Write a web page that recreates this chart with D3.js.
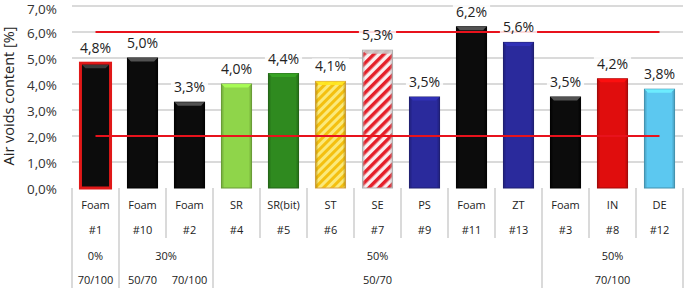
<!DOCTYPE html>
<html>
<head>
<meta charset="utf-8">
<script src="https://cdn.jsdelivr.net/npm/d3@7"></script>
<style>
  body { margin: 0; background: #fff; }
  svg { display: block; font-family: 'Open Sans', sans-serif; }
</style>
</head>
<body>
<div id="chart"></div>
<script>
// data
const materials = ['Foam', 'Foam', 'Foam', 'SR', 'SR(bit)', 'ST', 'SE', 'PS', 'Foam', 'ZT', 'Foam', 'IN', 'DE'];
const mixIds = ['#1', '#10', '#2', '#4', '#5', '#6', '#7', '#9', '#11', '#13', '#3', '#8', '#12'];
const airVoids = [4.8, 5.0, 3.3, 4.0, 4.4, 4.1, 5.3, 3.5, 6.2, 5.6, 3.5, 4.2, 3.8];
const rapLabels = ['0%', '30%', '50%', '50%'];
const rapSpans = [1, 2, 7, 3];
const binderLabels = ['70/100', '50/70', '70/100', '50/70', '70/100'];
const binderSpans = [1, 1, 1, 7, 3];
const limitValues = [2.0, 6.0];
const yTicks = [0, 1, 2, 3, 4, 5, 6, 7];

// bar fills (a pattern id or a colour)
const barFills = ['#0c0c0c', '#0c0c0c', '#0c0c0c', '#8fd54a', '#2f8a1f', 'url(#stYellow)', 'url(#seRed)',
    '#2a2a9c', '#0c0c0c', '#2a2a9c', '#0c0c0c', '#e00d0d', '#5cc8f0'];
const bevelBase = ['#0c0c0c', '#0c0c0c', '#0c0c0c', '#8fd54a', '#2f8a1f', '#f2c21c', '#e8202a',
    '#2a2a9c', '#0c0c0c', '#2a2a9c', '#0c0c0c', '#e00d0d', '#5cc8f0'];

const W = 685, H = 290;
const plot = { left: 72, right: 683, top: 6, bottom: 188 };

const svg = d3.select('#chart')
    .append('svg')
    .attr('width', W)
    .attr('height', H);

const defs = svg.append('defs');

// diagonal stripe patterns
function StripePattern(id, c1, c2, size) {
    const p = defs.append('pattern')
        .attr('id', id)
        .attr('patternUnits', 'userSpaceOnUse')
        .attr('width', size)
        .attr('height', size)
        .attr('patternTransform', 'rotate(45)');
    p.append('rect').attr('width', size).attr('height', size).attr('fill', c2);
    p.append('rect').attr('width', size / 2).attr('height', size).attr('fill', c1);
}
StripePattern('stYellow', '#f4c010', '#fbe97a', 6);
StripePattern('seRed', '#e5202a', '#fbeef0', 7);

const idx = d3.range(materials.length);

const x = d3.scaleBand()
    .domain(idx)
    .range([plot.left, plot.right])
    .paddingInner(0.36)
    .paddingOuter(0.18);

const y = d3.scaleLinear()
    .domain([0, 7])
    .range([plot.bottom, plot.top]);

// gridlines
svg.append('g')
    .selectAll('line')
    .data(yTicks.filter(d => d > 0))
    .join('line')
    .attr('x1', plot.left)
    .attr('x2', plot.right)
    .attr('y1', d => y(d))
    .attr('y2', d => y(d))
    .attr('stroke', '#b5b5b5')
    .attr('stroke-width', 1);

// y axis labels
const fmt = d => d.toFixed(1).replace('.', ',') + '%';
svg.append('g')
    .selectAll('text')
    .data(yTicks)
    .join('text')
    .attr('x', 57)
    .attr('y', d => Math.max(y(d) + 1.5, 9))
    .attr('dy', '0.35em')
    .attr('text-anchor', 'end')
    .attr('fill', '#333')
    .style('font-size', '13.5px')
    .text(fmt);

// y axis title
svg.append('text')
    .attr('transform', 'translate(14,' + 96 + ') rotate(-90)')
    .attr('text-anchor', 'middle')
    .attr('fill', '#222')
    .style('font-size', '14.5px')
    .text('Air voids content [%]');

// bars
const bw = x.bandwidth();
const bars = svg.append('g');
idx.forEach(i => {
    const x0 = x(i), x1 = x0 + bw;
    const y0 = y(airVoids[i]), y1 = y(0);
    const g = bars.append('g');
    const base = d3.color(bevelBase[i]);
    const isBlack = d3.hsl(base).l < 0.1;
    const light = i === 6 ? '#c9c9c9' : (isBlack ? '#5a5a5a' : base.brighter(0.5).formatHex());
    const dark = i === 6 ? '#b0b0b0' : (isBlack ? '#000' : base.darker(0.9).formatHex());
    g.append('rect')
        .attr('x', x0)
        .attr('y', y0)
        .attr('width', bw)
        .attr('height', y1 - y0)
        .attr('fill', barFills[i])
        .attr('stroke', i === 0 ? '#e01818' : (i === 5 ? '#d9a24a' : dark))
        .attr('stroke-width', i === 0 ? 3 : 1);
    if (i !== 0) {
        // bevel: top, left, right
        const b = 3.5;
        g.append('path')
            .attr('d', `M${x0},${y0}L${x1},${y0}L${x1 - b},${y0 + b}L${x0 + b},${y0 + b}Z`)
            .attr('fill', light)
            .attr('opacity', 0.9);
        g.append('path')
            .attr('d', `M${x0},${y0}L${x0 + 2},${y0 + 2}L${x0 + 2},${y1}L${x0},${y1}Z`)
            .attr('fill', dark)
            .attr('opacity', 0.5);
        g.append('path')
            .attr('d', `M${x1},${y0}L${x1 - 2},${y0 + 2}L${x1 - 2},${y1}L${x1},${y1}Z`)
            .attr('fill', dark)
            .attr('opacity', 0.5);
    } else {
        g.append('path')
            .attr('d', `M${x0 + 1.5},${y0 + 1.5}L${x1 - 1.5},${y0 + 1.5}L${x1 - 5},${y0 + 5}L${x0 + 5},${y0 + 5}Z`)
            .attr('fill', '#3a3a3a');
    }
});

// limit lines
const xMid = i => x(i) + bw / 2;
svg.append('g')
    .selectAll('line')
    .data(limitValues)
    .join('line')
    .attr('x1', xMid(0))
    .attr('x2', xMid(idx.length - 1))
    .attr('y1', d => y(d))
    .attr('y2', d => y(d))
    .attr('stroke', '#e8121c')
    .attr('stroke-width', 2);

// value labels with white boxes
const labels = svg.append('g');
idx.forEach(i => {
    const cx = xMid(i);
    const ty = y(airVoids[i]) - 10;
    const t = fmt(airVoids[i]);
    const tw = t.length * 8.3;
    labels.append('rect')
        .attr('x', cx - tw / 2 - 2)
        .attr('y', ty - 13)
        .attr('width', tw + 4)
        .attr('height', 16)
        .attr('fill', '#fff')
        .attr('opacity', 0.85);
    labels.append('text')
        .attr('x', cx)
        .attr('y', ty)
        .attr('text-anchor', 'middle')
        .attr('fill', '#222')
        .style('font-size', '14px')
        .text(t);
});

// category table below the chart
const table = svg.append('g');
const rowY = [205, 230, 256, 280];
const shortBottom = 238, longBottom = 288;
const edge = i => plot.left + (plot.right - plot.left) / idx.length * i;

// boundaries that run to the bottom: outer edges and the RAP/binder group breaks
const longEdges = new Set([0, idx.length]);
d3.cumsum(rapSpans).forEach(s => longEdges.add(s));
longEdges.add(1);
d3.range(idx.length + 1).forEach(k => {
    table.append('line')
        .attr('x1', edge(k))
        .attr('x2', edge(k))
        .attr('y1', plot.bottom)
        .attr('y2', longEdges.has(k) ? longBottom : shortBottom)
        .attr('stroke', '#b5b5b5')
        .attr('stroke-width', 1);
});

const catStyle = sel => sel
    .attr('text-anchor', 'middle')
    .attr('dy', '0.35em')
    .attr('fill', '#222')
    .style('font-size', '11px');

idx.forEach(i => {
    table.append('text').call(catStyle)
        .attr('x', xMid(i)).attr('y', rowY[0]).text(materials[i]);
    table.append('text').call(catStyle)
        .attr('x', xMid(i)).attr('y', rowY[1]).text(mixIds[i]);
});

function GroupRow(labelsArr, spans, ry) {
    let start = 0;
    labelsArr.forEach((l, j) => {
        const cx = (edge(start) + edge(start + spans[j])) / 2;
        table.append('text').call(catStyle)
            .attr('x', cx).attr('y', ry).text(l);
        start += spans[j];
    });
}
GroupRow(rapLabels, rapSpans, rowY[2]);
GroupRow(binderLabels, binderSpans, rowY[3]);
</script>
</body>
</html>
